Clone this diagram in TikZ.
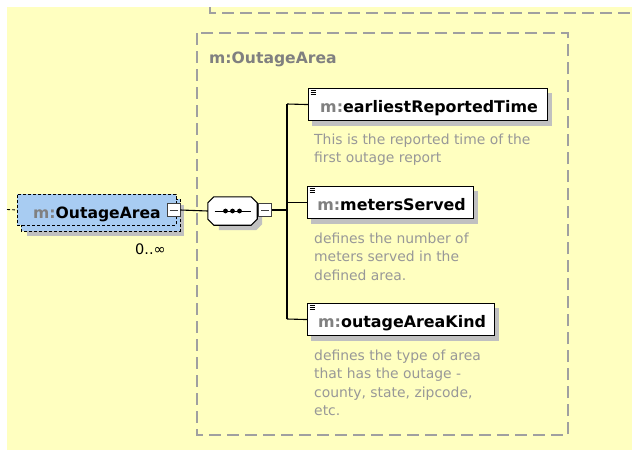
\documentclass[tikz,border=0pt]{standalone}
\usepackage{fontspec}
\setmainfont{DejaVu Sans}
\usetikzlibrary{calc}
\definecolor{bg}{HTML}{FFFFC0}
\definecolor{dashgrey}{HTML}{A0A0A0}
\definecolor{txtgrey}{HTML}{808080}
\definecolor{descgrey}{HTML}{989898}
\definecolor{elemblue}{HTML}{A8CCF2}
\definecolor{shadowgrey}{HTML}{C0C0C0}
\definecolor{boxline}{HTML}{404040}
\begin{document}
\begin{tikzpicture}[x=1pt,y=-1pt,
  bigdash/.style={draw=dashgrey, line width=1.2pt, dash pattern=on 12pt off 6pt},
  smalldash/.style={dash pattern=on 3pt off 2pt, line width=0.9pt},
  boldlbl/.style={font=\bfseries\fontsize{15.6}{16}\selectfont},
  childlbl/.style={font=\bfseries\fontsize{15.9}{16}\selectfont},
  desc/.style={anchor=base west, inner sep=0pt, align=left, text=descgrey, font=\fontsize{13.9}{18.5}\selectfont},
  childbox/.style={draw=black, line width=1.1pt, fill=white, minimum height=32pt, inner xsep=0pt, inner ysep=0pt, text height=16pt, text depth=0pt, childlbl},
  minusbox/.style={draw=boxline, line width=0.8pt, fill=white, minimum size=13pt, inner sep=0pt},
  conn/.style={draw=black, line width=1.1pt},
  sh/.style={fill=shadowgrey}
]
\useasboundingbox (0,0) rectangle (632,450);
\fill[bg] (7,7) rectangle (632,450);

% upper dashed frame (partly visible)
\draw[bigdash] (210,7) -- (210,13) -- (640,13);

% outer dashed group
\draw[bigdash] (197,33) rectangle (568,435);
\node[anchor=base west, inner sep=0pt, boldlbl, text=txtgrey] (title) at (209,63) {m:OutageArea};

% main element (repeated)
\fill[sh] (27,205) rectangle (184,236);
\draw[smalldash, fill=elemblue] (21,199) rectangle (180,231);
\node[draw=black, smalldash, fill=elemblue, minimum width=159pt, minimum height=31pt, inner sep=0pt, text height=17pt, text depth=0pt, boldlbl, anchor=north west] (main) at (17,194) {\textcolor{txtgrey}{m:}OutageArea};
\coordinate (lefttail) at (7,209.5);
\draw[smalldash] (lefttail) -- (main.west);
\node[minusbox] (m1) at (173.5,210) {};
\draw[line width=0.8pt, boxline] ($(m1.center)+(-4,0)$) -- ($(m1.center)+(4,0)$);
\node[anchor=base west, inner sep=0pt, font=\fontsize{14.5}{15}\selectfont] (occ) at (135,254) {0..\char"221E};

% sequence compositor
\node[minimum width=49pt, minimum height=28pt, inner sep=0pt] (seq) at (232.5,211) {};
\fill[sh] ($(seq.north west)+(11,5)$) -- ($(seq.north east)+(-1,5)$) -- ($(seq.east)+(5,-1)$) -- ($(seq.south east)+(5,-1)$) -- ($(seq.south east)+(-1,5)$) -- ($(seq.south west)+(11,5)$) -- cycle;
\draw[line width=1.1pt, fill=white] ($(seq.north west)+(6,0)$) -- ($(seq.north east)+(-6,0)$) -- ($(seq.north east)+(0,6)$) -- ($(seq.south east)+(0,-6)$) -- ($(seq.south east)+(-6,0)$) -- ($(seq.south west)+(6,0)$) -- ($(seq.south west)+(0,-6)$) -- ($(seq.north west)+(0,6)$) -- cycle;
\draw[line width=1pt] ($(seq.center)+(-18,0)$) -- ($(seq.center)+(18,0)$);
\foreach \dx in {-7,0,7} \fill ($(seq.center)+(\dx,0)$) circle (2.4pt);
\node[minusbox] (m2) at (265,210) {};
\draw[line width=0.8pt, boxline] ($(m2.center)+(-4,0)$) -- ($(m2.center)+(4,0)$);

\draw[conn] (m1.east) -- (seq.west);

% bus
\coordinate (busTop) at (287,104);
\coordinate (busMid) at (287,210);
\coordinate (busBot) at (287,319);
\draw[conn] (m2.east) -- (busMid);
\draw[conn] (busTop) -- (busBot);

% children
\fill[sh] (312,93) rectangle (552,126);
\node[childbox, minimum width=239pt, anchor=north west] (ca) at (308,88) {\hspace{2pt}\textcolor{txtgrey}{m:}earliestReportedTime};
\fill[sh] (311,191) rectangle (478,224);
\node[childbox, minimum width=166pt, anchor=north west] (cb) at (307,186) {\hspace{2pt}\textcolor{txtgrey}{m:}metersServed};
\fill[sh] (311,308) rectangle (499,341);
\node[childbox, minimum width=187pt, anchor=north west] (cc) at (307,303) {\hspace{2pt}\textcolor{txtgrey}{m:}outageAreaKind};

\foreach \b in {ca,cb,cc}{
  \foreach \dy in {2.5,4.5,6.5}
    \draw[line width=0.7pt] ($(\b.north west)+(2.5,\dy)$) -- ($(\b.north west)+(8,\dy)$);
}

\draw[conn] (busTop) -- (ca.west);
\draw[conn] (busMid |- cb.west) -- (cb.west);
\draw[conn] (busBot) -- (cc.west);

% descriptions (base anchor = baseline of the last line)
\node[desc] (da) at (314,162.5) {This is the reported time of the\\first outage report};
\node[desc] (db) at (314,280) {defines the number of\\meters served in the\\defined area.};
\node[desc] (dc) at (314,415.5) {defines the type of area\\that has the outage -\\county, state, zipcode,\\etc.};
\end{tikzpicture}
\end{document}
